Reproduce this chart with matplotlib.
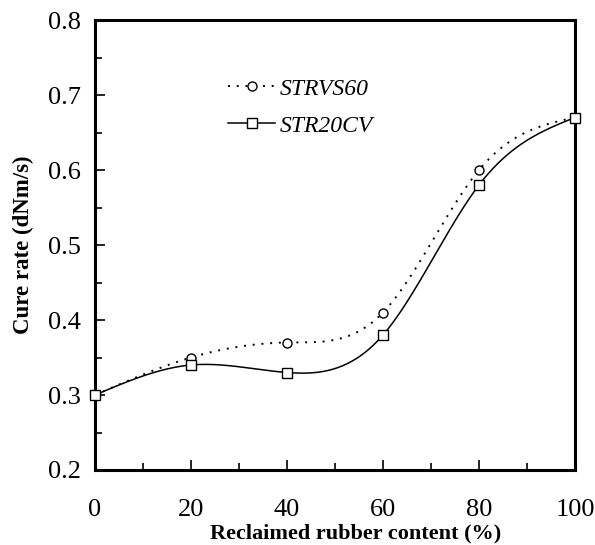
import numpy as np
import matplotlib
matplotlib.use("Agg")
import matplotlib.pyplot as plt
from matplotlib.lines import Line2D
from matplotlib.ticker import MultipleLocator

content = [0, 20, 40, 60, 80, 100]
strvs60 = [0.30, 0.35, 0.37, 0.41, 0.60, 0.67]
str20cv = [0.30, 0.34, 0.33, 0.38, 0.58, 0.67]
labels = ["STRVS60", "STR20CV"]


def natural_spline(x, y, n=300):
    x = np.asarray(x, float)
    y = np.asarray(y, float)
    k = len(x)
    h = np.diff(x)
    A = np.zeros((k, k))
    b = np.zeros(k)
    A[0, 0] = A[-1, -1] = 1
    for i in range(1, k - 1):
        A[i, i - 1] = h[i - 1]
        A[i, i] = 2 * (h[i - 1] + h[i])
        A[i, i + 1] = h[i]
        b[i] = 3 * ((y[i + 1] - y[i]) / h[i] - (y[i] - y[i - 1]) / h[i - 1])
    c = np.linalg.solve(A, b)
    xs = np.linspace(x[0], x[-1], n)
    ys = np.empty_like(xs)
    for j, xv in enumerate(xs):
        i = min(np.searchsorted(x, xv, side="right") - 1, k - 2)
        dx = xv - x[i]
        bi = (y[i + 1] - y[i]) / h[i] - h[i] * (2 * c[i] + c[i + 1]) / 3
        di = (c[i + 1] - c[i]) / (3 * h[i])
        ys[j] = y[i] + bi * dx + c[i] * dx ** 2 + di * dx ** 3
    return xs, ys


plt.rcParams["font.family"] = ["Liberation Serif", "DejaVu Serif"]

fig = plt.figure(figsize=(5.95, 5.45), dpi=100)
ax = fig.add_axes([95 / 595, 75 / 545, 480 / 595, 450 / 545])

dotted = (0, (1, 3.5))
xs, ys = natural_spline(content, strvs60)
ax.plot(xs, ys, color="black", lw=1.4, ls=dotted, zorder=2)
ax.plot(content, strvs60, ls="none", marker="o", ms=6.5, mfc="white",
        mec="black", mew=1.0, zorder=3, clip_on=False)

xs, ys = natural_spline(content, str20cv)
ax.plot(xs, ys, color="black", lw=1.1, ls="-", zorder=2)
ax.plot(content, str20cv, ls="none", marker="s", ms=7.5, mfc="white",
        mec="black", mew=1.0, zorder=4, clip_on=False)

ax.set_xlim(0, 100)
ax.set_ylim(0.2, 0.8)
ax.xaxis.set_major_locator(MultipleLocator(20))
ax.xaxis.set_minor_locator(MultipleLocator(10))
ax.yaxis.set_major_locator(MultipleLocator(0.1))
ax.yaxis.set_minor_locator(MultipleLocator(0.05))
ax.yaxis.set_major_formatter(plt.FuncFormatter(lambda v, p: f"{v:.1f}"))
ax.tick_params(which="both", direction="in", top=False, right=False,
               width=1.2, labelsize=19)
ax.tick_params(which="major", length=7)
ax.tick_params(which="minor", length=5)
ax.tick_params(axis="x", which="major", pad=21)
ax.tick_params(axis="y", which="major", pad=10)
for s in ax.spines.values():
    s.set_linewidth(2.2)

ax.set_xlabel("Reclaimed rubber content (%)", fontsize=16, fontweight="bold",
              labelpad=2, x=0.544)
ax.set_ylabel("Cure rate (dNm/s)", fontsize=16.5, fontweight="bold", labelpad=10)

handles = [
    Line2D([], [], color="black", lw=1.4, ls=dotted, marker="o", ms=6.5,
           mfc="white", mec="black"),
    Line2D([], [], color="black", lw=1.1, ls="-", marker="s", ms=7.5,
           mfc="white", mec="black"),
]
ax.legend(handles, labels, loc="upper left", bbox_to_anchor=(0.233, 0.918),
          frameon=False, prop={"family": "Liberation Serif", "style": "italic",
                               "size": 17},
          handlelength=2.0, handletextpad=0.2, labelspacing=0.65)

fig.savefig("out.png", dpi=100)
